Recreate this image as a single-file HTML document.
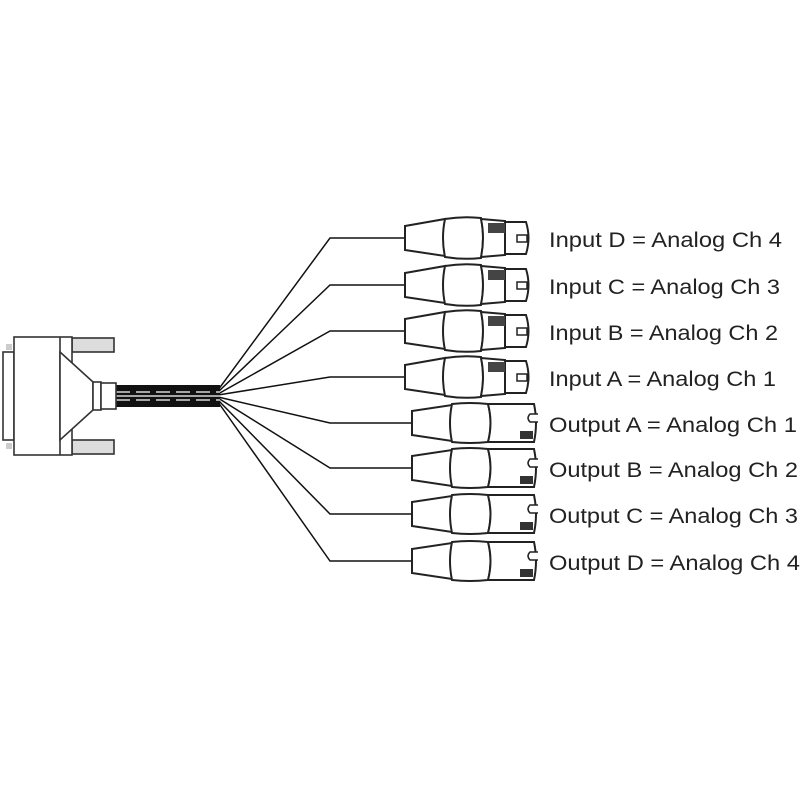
<!DOCTYPE html>
<html><head><meta charset="utf-8"><style>html,body{margin:0;padding:0;background:#fff}svg{display:block}</style></head>
<body>
<svg width="800" height="800" viewBox="0 0 800 800" xmlns="http://www.w3.org/2000/svg">
<defs>
<g id="inp" fill="#fff" stroke="#222" stroke-width="2">
  <path d="M405,-12 L445,-19 L445,18 L405,12 Z"/>
  <path d="M445,-19 Q463,-22 481,-20 Q485,0 481,20 Q463,22 445,19 Q441,0 445,-19 Z"/>
  <path d="M481,-19 L505,-17 L505,17 L481,19 Q485,0 481,-19 Z"/>
  <path d="M505,-16 L526,-16 Q531,0 526,16 L505,16 Z"/>
  <rect x="517" y="-3" width="10" height="7" fill="#fff" stroke-width="1.5"/>
  <rect x="488" y="-15" width="17" height="10" fill="#444" stroke="none"/>
</g>
<g id="out" fill="#fff" stroke="#222" stroke-width="2">
  <path d="M412,-12 L452,-18 L452,18 L412,12 Z"/>
  <path d="M452,-19 Q470,-21 488,-19 Q493,0 488,19 Q470,21 452,19 Q448,0 452,-19 Z"/>
  <path d="M488,-19 L534,-19 Q538,0 534,19 L488,19 Q493,0 488,-19 Z"/>
  <path d="M538,-9 L530,-9 Q526,-5 530,-1 L538,-1" fill="#fff" stroke-width="1.5"/>
  <rect x="520" y="8" width="13" height="8" fill="#333" stroke="none"/>
</g>
</defs>
<g fill="none" stroke="#111" stroke-width="1.5">
  <polyline points="218,390 330,238 405,238"/>
  <polyline points="218,392 330,285 405,285"/>
  <polyline points="218,394 330,331 405,331"/>
  <polyline points="218,395 330,377 405,377"/>
  <polyline points="218,397 330,423 412,423"/>
  <polyline points="218,398 330,468 412,468"/>
  <polyline points="218,400 330,514 412,514"/>
  <polyline points="218,402 330,561 412,561"/>
</g>
<rect x="116" y="385" width="104" height="22" fill="#111"/>
<g stroke="#fff" stroke-width="1.2">
  <line x1="116" y1="392" x2="220" y2="392" stroke-dasharray="14,6"/>
  <line x1="116" y1="396" x2="220" y2="396"/>
  <line x1="116" y1="400" x2="220" y2="400" stroke-dasharray="14,6"/>
</g>
<g fill="#fff" stroke="#333" stroke-width="1.6">
  <rect x="72" y="338" width="42" height="14" fill="#ddd"/>
  <rect x="72" y="440" width="42" height="14" fill="#ddd"/>
  <rect x="3" y="352" width="11" height="88"/>
  <rect x="14" y="337" width="58" height="118"/>
  <line x1="60" y1="337" x2="60" y2="455"/>
  <path d="M60,352 L93,382 L93,410 L60,440 Z"/>
  <rect x="93" y="382" width="8" height="28"/>
  <rect x="101" y="383" width="15" height="26"/>
  <rect x="6" y="344" width="6" height="6" fill="#ccc" stroke="none"/>
  <rect x="6" y="443" width="6" height="6" fill="#ccc" stroke="none"/>
</g>
<use href="#inp" transform="translate(0,238)"/>
<use href="#inp" transform="translate(0,285)"/>
<use href="#inp" transform="translate(0,331)"/>
<use href="#inp" transform="translate(0,377)"/>
<use href="#out" transform="translate(0,423)"/>
<use href="#out" transform="translate(0,468)"/>
<use href="#out" transform="translate(0,514)"/>
<use href="#out" transform="translate(0,561)"/>
<g font-family="Liberation Sans, sans-serif" font-size="21" fill="#222">
  <text x="549" y="247" textLength="233" lengthAdjust="spacingAndGlyphs">Input D = Analog Ch 4</text>
  <text x="549" y="294" textLength="231" lengthAdjust="spacingAndGlyphs">Input C = Analog Ch 3</text>
  <text x="549" y="340" textLength="229" lengthAdjust="spacingAndGlyphs">Input B = Analog Ch 2</text>
  <text x="549" y="386" textLength="227" lengthAdjust="spacingAndGlyphs">Input A = Analog Ch 1</text>
  <text x="549" y="432" textLength="248" lengthAdjust="spacingAndGlyphs">Output A = Analog Ch 1</text>
  <text x="549" y="477" textLength="249" lengthAdjust="spacingAndGlyphs">Output B = Analog Ch 2</text>
  <text x="549" y="523" textLength="249" lengthAdjust="spacingAndGlyphs">Output C = Analog Ch 3</text>
  <text x="549" y="570" textLength="251" lengthAdjust="spacingAndGlyphs">Output D = Analog Ch 4</text>
</g>
</svg>
</body></html>
